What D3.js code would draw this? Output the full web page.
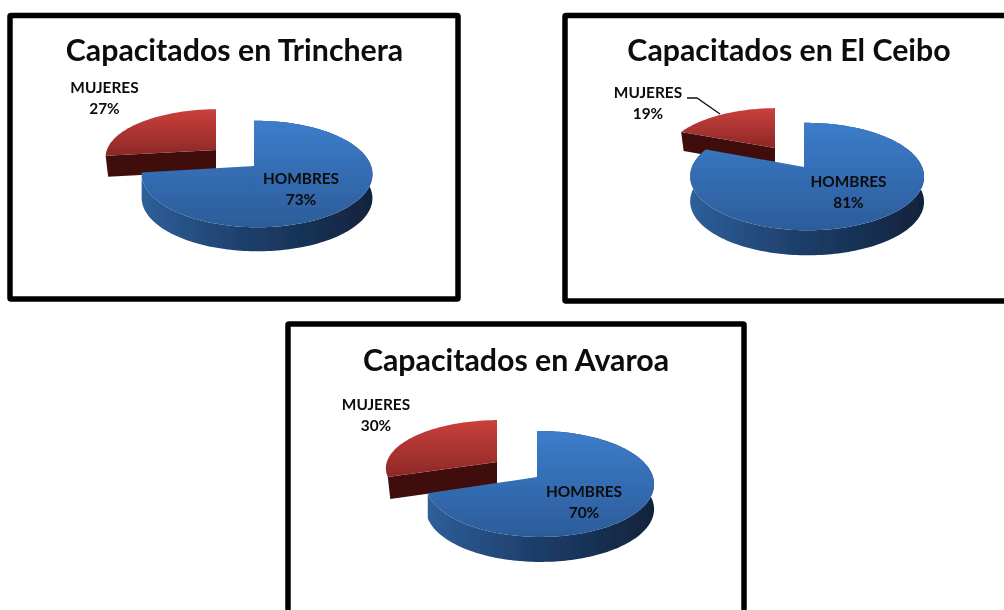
<!DOCTYPE html>
<html>
<head>
<meta charset="utf-8">
<script src="https://cdn.jsdelivr.net/npm/d3@7"></script>
<style>
html, body { margin: 0; padding: 0; background: #fff; overflow: hidden; }
text { font-family: Lato, "Open Sans", sans-serif; font-weight: bold; fill: #0a0a0a; }
</style>
</head>
<body>
<div id="chart"></div>
<script>
var titles = ["Capacitados en Trinchera", "Capacitados en El Ceibo", "Capacitados en Avaroa"];
var categories = ["HOMBRES", "MUJERES"];
var hombres = [73, 81, 70];
var mujeres = [27, 19, 30];

var width = 1004,
height = 610;

// frame, title and label spots for each panel, then the two pie discs
var layout = [
	{
		frame: [10, 15.5, 448, 283.5], titleX: 234.5,  titleY: 61,
		labelH: [301, 184], labelM: [104.5, 93],
		blue: { cx: 254, cy: 166, rx: 114, ry: 52, k: 0.151, depth: 24 },
		red:  { cx: 216, cy: 150, rx: 112, ry: 47, k: 0.151, depth: 21 }
	},
	{
		frame: [565, 15.5, 460, 285.5], titleX: 789, titleY: 61,
		labelH: [848.5, 187], labelM: [648, 98],
		blue: { cx: 804, cy: 167, rx: 115, ry: 52, k: 0.178, depth: 25 },
		red:  { cx: 775, cy: 148, rx: 110, ry: 47, k: 0.178, depth: 19 },
		leader: [[687, 98], [697, 98], [720, 114]]
	},
	{
		frame: [288, 324, 456, 310], titleX: 516, titleY: 371,
		labelH: [584, 497], labelM: [376, 410],
		blue: { cx: 537, cy: 477, rx: 113, ry: 52, k: 0.132, depth: 25 },
		red:  { cx: 497, cy: 462, rx: 113, ry: 47.5, k: 0.132, depth: 22 }
	}
];

var skew = -0.026;

var svg = d3.select("#chart")
.append("svg")
.attr("width", width)
.attr("height", height);

var defs = svg.append("defs");

//The reference is a slightly soft screenshot
defs.append("filter")
.attr("id", "soft")
.append("feGaussianBlur")
.attr("stdDeviation", 0.45);

function addGradient(id, horizontal, stops) {
	var g = defs.append("linearGradient")
	.attr("id", id)
	.attr("x1", 0).attr("y1", 0)
	.attr("x2", horizontal ? 1 : 0).attr("y2", horizontal ? 0 : 1);
	stops.forEach(function(s) {
		g.append("stop").attr("offset", s[0]).attr("stop-color", s[1]);
	});
}

addGradient("blueTop", false, [[0, "#3c7dcb"], [1, "#2c5c9a"]]);
addGradient("blueSide", true, [[0, "#2e5f99"], [0.45, "#1e3f6c"], [1, "#11233c"]]);
addGradient("redTop", false, [[0, "#cb403c"], [1, "#8c2826"]]);

var pie = d3.pie().sort(null).value(function(d) { return d; });
var pathLine = d3.line();

//Project a point of the flat disc onto the screen, nearer parts come out bigger
function project(disc, angle, radius, drop) {
	var u = Math.sin(angle) * radius;
	var v = Math.cos(angle) * radius;
	var w = 1 + disc.k * v + skew * u;
	return [disc.cx + disc.rx * u / w, disc.cy - disc.ry * v / w + drop];
}

function rimPoints(disc, a0, a1, drop) {
	var n = Math.max(2, Math.ceil(Math.abs(a1 - a0) * 40));
	return d3.range(n + 1).map(function(i) {
		return project(disc, a0 + (a1 - a0) * i / n, 1, drop);
	});
}

function drawBlue(g, disc, arc) {
	var rim = rimPoints(disc, arc.startAngle, arc.endAngle, 0);
	var rimLow = rimPoints(disc, arc.endAngle, arc.startAngle, disc.depth);

	g.append("path")
	.attr("d", pathLine(rim.concat(rimLow)) + "Z")
	.attr("fill", "url(#blueSide)");

	g.append("path")
	.attr("d", pathLine([project(disc, 0, 0, 0)].concat(rim)) + "Z")
	.attr("fill", "url(#blueTop)");
}

function drawRed(g, disc, arc) {
	var rim = rimPoints(disc, arc.startAngle, arc.endAngle, 0);
	var centre = project(disc, 0, 0, 0);
	var centreLow = project(disc, 0, 0, disc.depth);
	var p = rim[0];

	//Only the cut face toward the viewer shows on this slice
	g.append("path")
	.attr("d", pathLine([centre, p, [p[0] + 2.5, p[1] + disc.depth], centreLow]) + "Z")
	.attr("fill", "#3f1010");

	g.append("path")
	.attr("d", pathLine([centre].concat(rim)) + "Z")
	.attr("fill", "url(#redTop)");
}

layout.forEach(function(spot, i) {
	var g = svg.append("g").attr("filter", "url(#soft)");
	var arcs = pie([hombres[i], mujeres[i]]);

	g.append("rect")
	.attr("x", spot.frame[0])
	.attr("y", spot.frame[1])
	.attr("width", spot.frame[2])
	.attr("height", spot.frame[3])
	.attr("rx", 1)
	.attr("fill", "#fff")
	.attr("stroke", "#050505")
	.attr("stroke-width", 5.5);

	g.append("text")
	.attr("x", spot.titleX)
	.attr("y", spot.titleY)
	.attr("text-anchor", "middle")
	.style("font-size", "30.3px")
	.text(titles[i]);

	drawRed(g, spot.red, arcs[1]);
	drawBlue(g, spot.blue, arcs[0]);

	if (spot.leader) {
		g.append("path")
		.attr("d", pathLine(spot.leader))
		.attr("fill", "none")
		.attr("stroke", "#111")
		.attr("stroke-width", 1.3);
	}

	[[categories[0], hombres[i], spot.labelH], [categories[1], mujeres[i], spot.labelM]].forEach(function(l) {
		var label = g.append("text")
		.attr("text-anchor", "middle")
		.style("font-size", "15.4px");
		label.append("tspan").attr("x", l[2][0]).attr("y", l[2][1]).text(l[0]);
		label.append("tspan").attr("x", l[2][0]).attr("y", l[2][1] + 21).text(l[1] + "%");
	});
});
</script>
</body>
</html>
